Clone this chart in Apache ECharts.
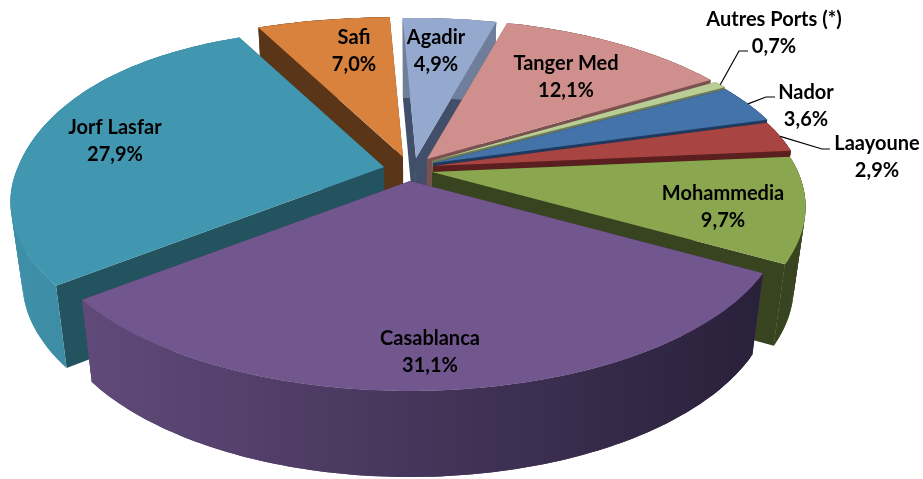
<!DOCTYPE html>
<html>
<head>
<meta charset="utf-8">
<title>Ports</title>
<style>
    html, body { margin: 0; padding: 0; background: #fff; }
    #main { width: 923px; height: 479px; }
</style>
<script src="https://cdn.jsdelivr.net/npm/echarts@6/dist/echarts.min.js"></script>
</head>
<body>
<div id="main"></div>
<script>
// data, clockwise from the top
var ports = ['Agadir', 'Tanger Med', 'Autres Ports (*)', 'Nador', 'Laayoune', 'Mohammedia', 'Casablanca', 'Jorf Lasfar', 'Safi'];
var shares = [4.9, 12.1, 0.7, 3.6, 2.9, 9.7, 31.1, 27.9, 7.0];

// colours
var topColors = ['#95A9CF', '#CF8F8D', '#B9CE95', '#4373A8', '#A84442', '#8AA64F', '#72578F', '#4197AF', '#D9823D'];
var cutColors = ['#414F6B', '#7A5150', '#6E7B58', '#1E3A5F', '#5A1F1E', '#38431F', '#3F3052', '#23535F', '#5A3518'];
var wallLeft = ['#6F7F9B', '#7A5150', '#6E7B58', '#1E3A5F', '#5A1F1E', '#38431F', '#604A7A', '#3E90A8', '#5A3518'];
var wallRight = ['#6F7F9B', '#7A5150', '#6E7B58', '#1E3A5F', '#5A1F1E', '#38431F', '#29203A', '#35829A', '#5A3518'];

// layout: where each exploded slice has its tip, where its label sits
var tipX = [416, 427, 432, 433, 433, 432, 410, 384, 403];
var tipY = [158, 159, 161, 163, 166, 172, 181, 167, 157];
var labelX = [436, 566, 774, 806, 877, 723, 430, 115, 354];
var labelY = [51, 77, 33, 106, 157, 207, 352, 141, 51];
var leaderPaths = {
    2: [[739, 51], [748, 51]],
    3: [[766, 97], [775, 97]],
    4: [[822, 149], [830, 149]]
};

var startAngle = -2.5;
var radiusX = 366;
var radiusY = 168;
var tilt = 0.2;
var vanishX = 410;
var bottomScale = 0.97;

// cumulative start angle of every slice
var total = 0;
for (var i = 0; i < shares.length; i++) { total += shares[i]; }
var startAngles = [];
var acc = startAngle;
for (var j = 0; j < shares.length; j++) {
    startAngles.push(acc);
    acc += shares[j] / total * 360;
}

// point on the rim of a slice, seen with some perspective
// third value is how far the point is towards the viewer
function rimPoint(idx, deg) {
    var a = deg * Math.PI / 180;
    var x = Math.sin(a);
    var z = -Math.cos(a);
    var s = 1 / (1 - tilt * z);
    var y = radiusY * z * s;
    // the back left of the original is a little fuller than a true ellipse
    if (z < 0 && x < 0) {
        y -= 8 * Math.abs(Math.sin(2 * a) * x);
    }
    return [tipX[idx] + radiusX * x * s, tipY[idx] + y, z];
}

function lower(p) {
    var z = p[2] > 0 ? p[2] : 0;
    return [vanishX + (p[0] - vanishX) * bottomScale, p[1] + 80 + 6 * z * z];
}

function renderSlice(params, api) {
    var idx = params.dataIndex;
    var value = api.value(0);
    var a0 = startAngles[idx];
    var a1 = a0 + value / total * 360;
    var tip = [tipX[idx], tipY[idx], 0];
    var mid = (a0 + a1) / 2;
    // slices nearer the viewer are painted later
    var order = Math.round((1 - Math.cos(mid * Math.PI / 180)) * 100);

    var rim = [];
    var steps = Math.max(2, Math.ceil(a1 - a0));
    for (var s = 0; s <= steps; s++) {
        rim.push(rimPoint(idx, a0 + (a1 - a0) * s / steps));
    }

    var minX = Infinity, maxX = -Infinity;
    rim.forEach(function (p) {
        minX = Math.min(minX, p[0]);
        maxX = Math.max(maxX, p[0]);
    });
    var wallFill = new echarts.graphic.LinearGradient(minX, 0, maxX, 0, [
        { offset: 0, color: wallLeft[idx] },
        { offset: 1, color: wallRight[idx] }
    ], true);

    var first = rim[0];
    var last = rim[rim.length - 1];
    var children = [
        {
            type: 'polygon', z2: order,
            shape: { points: [tip, first, lower(first), lower(tip)] },
            style: { fill: cutColors[idx] }
        },
        {
            type: 'polygon', z2: order,
            shape: { points: [tip, last, lower(last), lower(tip)] },
            style: { fill: cutColors[idx] }
        },
        {
            type: 'polygon', z2: order + 2,
            shape: { points: [tip].concat(rim) },
            style: { fill: topColors[idx] }
        },
        {
            type: 'text', z2: 1000,
            x: labelX[idx], y: labelY[idx],
            style: {
                text: ports[idx] + '\n' + value.toFixed(1).replace('.', ',') + '%',
                font: 'bold 20px Lato',
                lineHeight: 27,
                fill: '#000',
                align: 'center',
                verticalAlign: 'middle'
            }
        }
    ];

    // outer wall as overlapping strips, one polygon would leave a hole where it folds over
    for (var k = 0; k < steps; k++) {
        var end = Math.min(k + 2, steps);
        children.push({
            type: 'polygon', z2: order + 1,
            shape: { points: [rim[k], rim[k + 1], rim[end], lower(rim[end]), lower(rim[k + 1]), lower(rim[k])] },
            style: { fill: wallFill }
        });
    }

    if (leaderPaths[idx]) {
        children.push({
            type: 'polyline', z2: 999,
            shape: { points: [rimPoint(idx, mid)].concat(leaderPaths[idx]) },
            style: { fill: null, stroke: '#000', lineWidth: 1.2 }
        });
    }
    return { type: 'group', children: children };
}

var myChart = echarts.init(document.getElementById('main'));
var option = {
    animation: false,
    backgroundColor: '#fff',
    series: [{
        type: 'custom',
        coordinateSystem: 'none',
        silent: true,
        renderItem: renderSlice,
        data: shares.map(function (v) { return [v]; })
    }]
};
myChart.setOption(option);
</script>
</body>
</html>
